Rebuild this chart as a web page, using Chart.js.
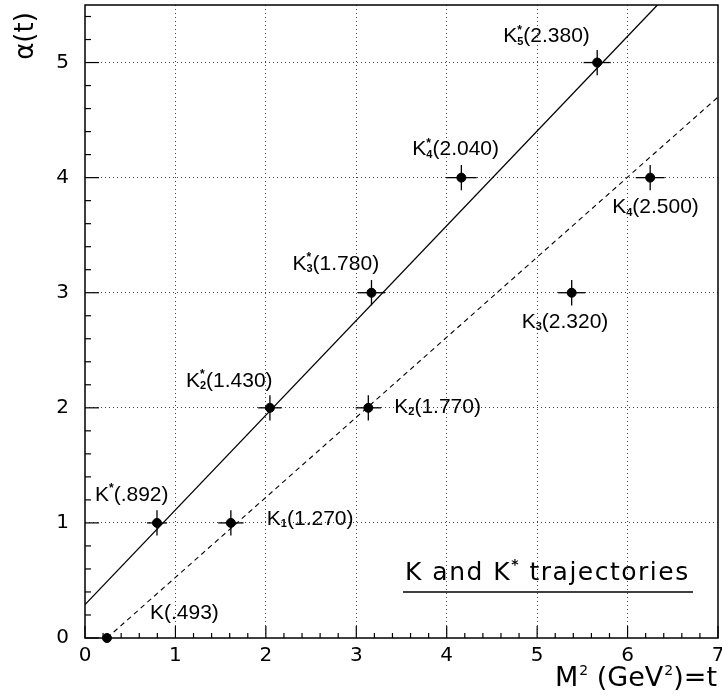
<!DOCTYPE html>
<html>
<head>
<meta charset="utf-8">
<script src="https://cdn.jsdelivr.net/npm/chart.js@4.4.1/dist/chart.umd.min.js"></script>
<style>
html,body{margin:0;padding:0;background:#fff}
#wrap{width:722px;height:697px}
</style>
</head>
<body>
<div id="wrap"><canvas id="chart" width="722" height="697"></canvas></div>
<script>
// ===== DATA =====
const massLabels = ["(.493)","(.892)","(1.270)","(1.430)","(1.770)","(1.780)","(2.320)","(2.040)","(2.500)","(2.380)"];
const starred    = [false, true, false, true, false, true, false, true, false, true];
const subs       = ["", "", "1", "2", "2", "3", "3", "4", "4", "5"];
const massSq     = [0.243, 0.796, 1.613, 2.045, 3.133, 3.168, 5.382, 4.162, 6.25, 5.664];
const spin       = [0, 1, 1, 2, 2, 3, 3, 4, 4, 5];
const massSqErr  = [0, 0.11, 0.14, 0.13, 0.14, 0.15, 0.15, 0.17, 0.16, 0.15];
const spinErr    = [0, 0.11, 0.11, 0.11, 0.11, 0.11, 0.11, 0.11, 0.11, 0.11];

// trajectory fits (end points)
const kStarFit = [[0, 0.29], [6.33, 5.5]];
const kFit     = [[0.243, 0], [7, 4.70]];

const xTicks = [0, 1, 2, 3, 4, 5, 6, 7];
const yTicks = [0, 1, 2, 3, 4, 5];

// label offsets from each point, px
const labelDx = [43, -62, 36, -84, 26, -79, -50, -49, -38, -94];
const labelDy = [-25, -28, -4, -27, -1, -29, 29, -28, 30, -26];

const FONT = "'DejaVu Sans', sans-serif";
const LFONT = "'Liberation Sans', Arial, sans-serif";

// ===== PLUGIN: error bars, frame, minor ticks, labels =====
const decor = {
  id: "decor",
  afterDatasetsDraw(chart) {
    const ctx = chart.ctx, xs = chart.scales.x, ys = chart.scales.y, a = chart.chartArea;
    ctx.save();
    ctx.strokeStyle = "#000";
    ctx.fillStyle = "#000";

    // error bars
    ctx.lineWidth = 1.3;
    massSq.forEach((m, i) => {
      const px = xs.getPixelForValue(m), py = ys.getPixelForValue(spin[i]);
      if (massSqErr[i]) {
        ctx.beginPath();
        ctx.moveTo(xs.getPixelForValue(m - massSqErr[i]), py);
        ctx.lineTo(xs.getPixelForValue(m + massSqErr[i]), py);
        ctx.stroke();
      }
      if (spinErr[i]) {
        ctx.beginPath();
        ctx.moveTo(px, ys.getPixelForValue(spin[i] - spinErr[i]));
        ctx.lineTo(px, ys.getPixelForValue(spin[i] + spinErr[i]));
        ctx.stroke();
      }
    });

    // frame
    ctx.lineWidth = 1.5;
    ctx.strokeRect(a.left, a.top, a.right - a.left, a.bottom - a.top);

    // inner ticks
    ctx.lineWidth = 1.2;
    for (let k = 0; k <= 35; k++) {
      const px = xs.getPixelForValue(k / 5);
      const len = k % 5 === 0 ? 12 : 5;
      ctx.beginPath(); ctx.moveTo(px, a.bottom); ctx.lineTo(px, a.bottom - len); ctx.stroke();
    }
    for (let k = 0; k <= 27; k++) {
      const py = ys.getPixelForValue(k / 5);
      const len = k % 5 === 0 ? 14 : 6;
      ctx.beginPath(); ctx.moveTo(a.left, py); ctx.lineTo(a.left + len, py); ctx.stroke();
    }

    // state labels
    ctx.textBaseline = "middle";
    ctx.textAlign = "left";
    massSq.forEach((m, i) => {
      let x = xs.getPixelForValue(m) + labelDx[i];
      const y = ys.getPixelForValue(spin[i]) + labelDy[i];
      ctx.font = "21px " + LFONT;
      ctx.fillText("K", x, y);
      x += ctx.measureText("K").width;
      let w = 0;
      if (starred[i]) {
        ctx.font = "bold 12px " + LFONT;
        ctx.fillText("*", x, y - 6);
        w = Math.max(w, ctx.measureText("*").width);
      }
      if (subs[i]) {
        ctx.font = "bold 11px " + LFONT;
        ctx.fillText(subs[i], x, y + 5);
        w = Math.max(w, ctx.measureText(subs[i]).width);
      }
      x += w;
      ctx.font = "21px " + LFONT;
      ctx.fillText(massLabels[i], x, y);
    });

    // trajectory caption
    ctx.textBaseline = "alphabetic";
    ctx.letterSpacing = "1.5px";
    let tx = 405;
    const ty = 580;
    ctx.font = "25px " + FONT;
    ctx.fillText("K and K", tx, ty);
    tx += ctx.measureText("K and K").width;
    ctx.font = "bold 14px " + FONT;
    ctx.fillText("*", tx, ty - 11);
    tx += ctx.measureText("*").width;
    ctx.font = "25px " + FONT;
    ctx.fillText(" trajectories", tx, ty);
    ctx.letterSpacing = "0px";
    ctx.lineWidth = 1.5;
    ctx.beginPath(); ctx.moveTo(403, 592); ctx.lineTo(693, 592); ctx.stroke();

    // axis titles
    let mx = 555;
    const my = 686;
    ctx.font = "27px " + FONT;
    ctx.fillText("M", mx, my); mx += ctx.measureText("M").width;
    ctx.font = "14px " + FONT;
    ctx.fillText("2", mx + 1, my - 11); mx += ctx.measureText("2").width + 1;
    ctx.font = "27px " + FONT;
    ctx.fillText(" (GeV", mx, my); mx += ctx.measureText(" (GeV").width;
    ctx.font = "14px " + FONT;
    ctx.fillText("2", mx + 1, my - 11); mx += ctx.measureText("2").width + 1;
    ctx.font = "27px " + FONT;
    ctx.fillText(")=t", mx, my);

    ctx.translate(26, 36);
    ctx.rotate(-Math.PI / 2);
    ctx.textAlign = "center";
    ctx.textBaseline = "middle";
    ctx.font = "26px " + FONT;
    ctx.fillText("\u03B1(t)", 0, 0);

    ctx.restore();
  }
};

// ===== CHART =====
const points = massSq.map((m, i) => ({x: m, y: spin[i]}));

new Chart(document.getElementById("chart"), {
  type: "scatter",
  data: {
    datasets: [
      {data: kStarFit.map(p => ({x: p[0], y: p[1]})), showLine: true, borderColor: "#000",
       borderWidth: 1.3, pointRadius: 0, order: 2},
      {data: kFit.map(p => ({x: p[0], y: p[1]})), showLine: true, borderColor: "#000",
       borderWidth: 1.1, borderDash: [5, 4], pointRadius: 0, order: 2},
      {data: points, backgroundColor: "#000", borderColor: "#000", pointRadius: 4.5, clip: false, order: 1}
    ]
  },
  options: {
    responsive: false,
    animation: false,
    layout: {autoPadding: false, padding: {top: 5, right: 4, left: 0, bottom: 0}},
    plugins: {legend: {display: false}, tooltip: {enabled: false}},
    scales: {
      x: {
        type: "linear", min: 0, max: 7,
        afterBuildTicks: s => { s.ticks = xTicks.map(v => ({value: v})); },
        afterFit: s => { s.height = 59; s.paddingLeft = 0; s.paddingRight = 0; },
        grid: {
          color: c => (c.tick && c.tick.value > 0 && c.tick.value < 7) ? "#444" : "rgba(0,0,0,0)",
          lineWidth: 1, drawTicks: false
        },
        border: {display: false, dash: [1, 3]},
        ticks: {color: "#000", font: {family: FONT, size: 20}, padding: 6}
      },
      y: {
        type: "linear", min: 0, max: 5.5,
        afterBuildTicks: s => { s.ticks = yTicks.map(v => ({value: v})); },
        afterFit: s => { s.width = 85; s.paddingTop = 0; s.paddingBottom = 0; },
        grid: {
          color: c => (c.tick && c.tick.value > 0) ? "#444" : "rgba(0,0,0,0)",
          lineWidth: 1, drawTicks: false
        },
        border: {display: false, dash: [1, 3]},
        ticks: {color: "#000", font: {family: FONT, size: 20}, padding: 16}
      }
    }
  },
  plugins: [decor]
});
</script>
</body>
</html>
